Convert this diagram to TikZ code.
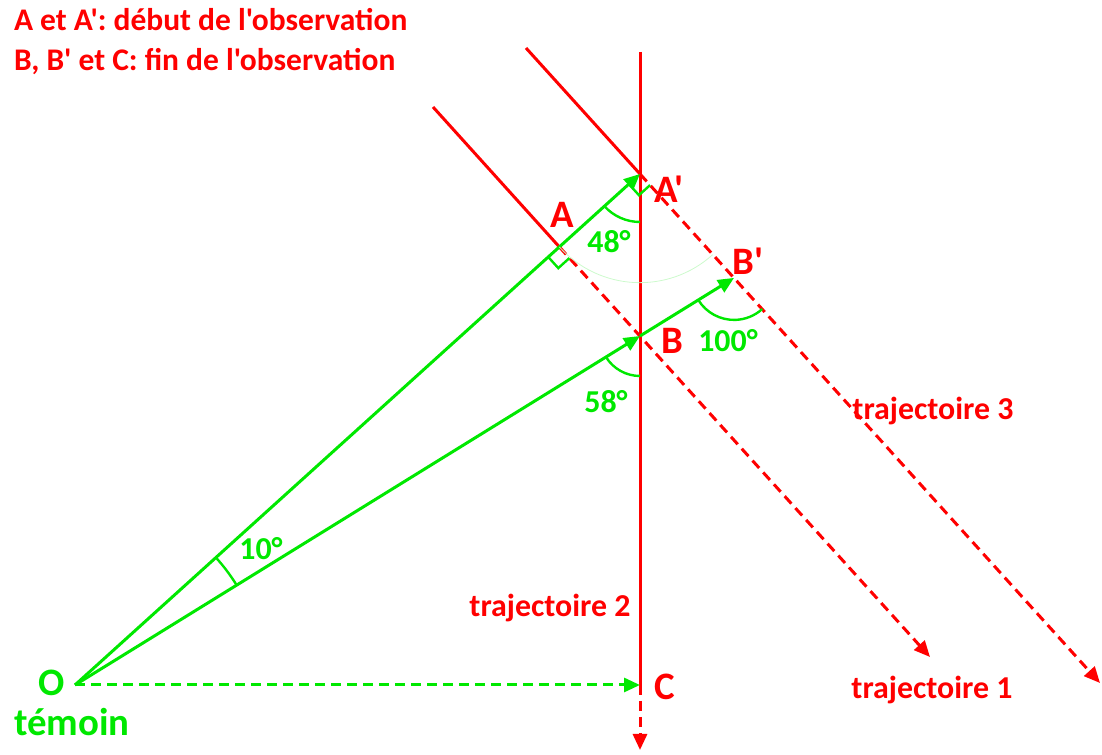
\documentclass[tikz,border=0pt]{standalone}
\usepackage{fontspec}
\setmainfont{Carlito}[Ligatures=TeXOff]
\usetikzlibrary{calc,arrows.meta}
\definecolor{rouge}{RGB}{255,0,0}
\definecolor{vert}{RGB}{0,232,0}
% marque d'angle droit (cote trajectoire / cote temoin)
\newcommand{\angleDroit}[1]{\draw[vert,line width=1.2bp] (#1) ++(312.13:15) -- ++(222.13:15) -- ++(132.13:15);}

\begin{document}
\begin{tikzpicture}[x=0.5bp,y=0.5bp,
  traj/.style={rouge,line width=1.5bp},
  rayon/.style={vert,line width=1.5bp},
  pointille/.style={dash pattern=on 5bp off 3bp},
  fleche/.style={-{Triangle[length=8bp,width=7bp]}},
  arcangle/.style={vert,line width=1.2bp},
  lettre/.style={rouge,font=\bfseries\fontsize{19.5}{22}\selectfont},
  angl/.style={vert,font=\bfseries\fontsize{16}{19}\selectfont},
  nomtraj/.style={rouge,font=\bfseries\fontsize{16}{19}\selectfont}]
  \useasboundingbox (0,0) rectangle (1102,755);
  % points
  \coordinate (O) at (75,70);
  \coordinate (C) at (640,70);
  \coordinate (H) at (640,703);
  \coordinate (Cb) at (640,5);
  \coordinate (Ap) at (640,581);
  \coordinate (B) at (640,419);
  \coordinate (A) at ($(O)!(B)!(Ap)$);
  \coordinate (T1s) at (433,648);
  \coordinate (T1e) at (930,98);
  \coordinate (T3s) at (526,707);
  \coordinate (T3e) at (1100,72);
  \coordinate (Bp) at (intersection of O--B and Ap--T3e);
  % trajectoires
  \draw[traj] (H) -- (C);
  \draw[traj,pointille,fleche] (C) -- (Cb);
  \draw[traj] (T1s) -- (A);
  \draw[traj,pointille,fleche] (A) -- (T1e);
  \draw[traj] (T3s) -- (Ap);
  \draw[traj,pointille,fleche] (Ap) -- (T3e);
  % visees du temoin
  \draw[rayon,fleche] (O) -- (Ap);
  \draw[rayon,fleche] (O) -- (B);
  \draw[rayon,fleche] (B) -- (Bp);
  \draw[rayon,pointille,fleche] (O) -- (C);
  % angles
  \draw[arcangle] (O) ++(31.7:190) arc[start angle=31.7,end angle=42.13,radius=190];
  \draw[arcangle] (Ap) ++(222.13:48) arc[start angle=222.13,end angle=270,radius=48];
  \draw[arcangle] (B) ++(211.7:40) arc[start angle=211.7,end angle=270,radius=40];
  \draw[arcangle] (Bp) ++(211.7:42) arc[start angle=211.7,end angle=312.13,radius=42];
  \draw[vert!20,line width=0.4bp] (A) arc[start angle=222.13,end angle=312.13,radius=108.6];
  \angleDroit{Ap}
  \angleDroit{A}
  % textes
  \node[rouge,anchor=west,font=\bfseries\fontsize{15.8}{19}\selectfont] (titre1) at (7,735) {A et A': début de l'observation};
  \node[rouge,anchor=west,font=\bfseries\fontsize{15.8}{19}\selectfont] (titre2) at (7,693) {B, B' et C: fin de l'observation};
  \node[lettre] (lAp) at (669,566) {A'};
  \node[lettre] (lA) at (562,540) {A};
  \node[lettre] (lBp) at (748,494) {B'};
  \node[lettre] (lB) at (672,414) {B};
  \node[lettre] (lC) at (665,68) {C};
  \node[vert,font=\bfseries\fontsize{19.5}{22}\selectfont] (lO) at (52,72) {O};
  \node[vert,font=\bfseries\fontsize{19.5}{22}\selectfont] (temoin) at (72,33) {témoin};
  \node[angl] (a48) at (609,513) {48°};
  \node[angl] (a58) at (606,353) {58°};
  \node[angl] (a100) at (728,414) {100°};
  \node[angl] (a10) at (261,206) {10°};
  \node[nomtraj] (t1) at (932,65) {trajectoire 1};
  \node[nomtraj] (t2) at (550,147) {trajectoire 2};
  \node[nomtraj] (t3) at (933,344) {trajectoire 3};
\end{tikzpicture}
\end{document}
